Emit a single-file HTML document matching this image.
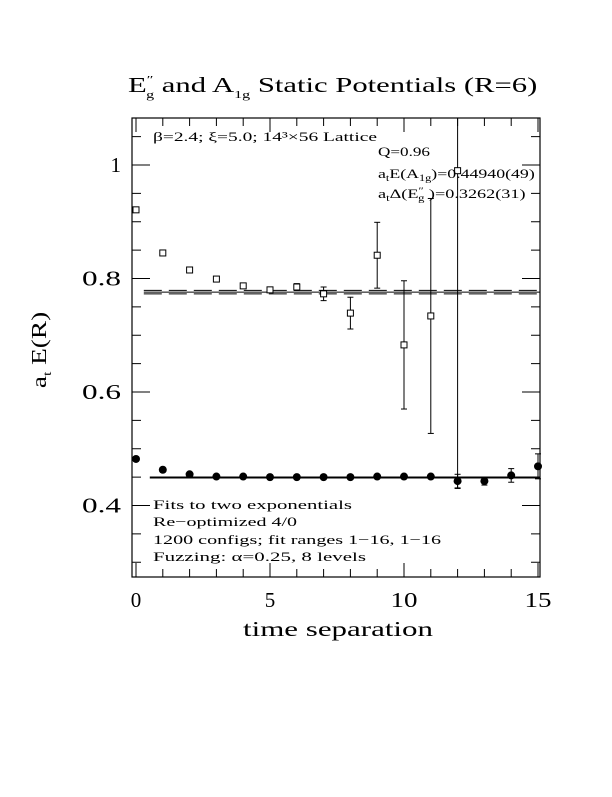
<!DOCTYPE html>
<html><head><meta charset="utf-8"><style>
html,body{margin:0;padding:0;background:#fff}
svg text{font-family:"Liberation Serif",serif;fill:#000}
</style></head><body>
<svg width="612" height="792" viewBox="0 0 612 792" xmlns="http://www.w3.org/2000/svg">
<g transform="translate(128,0) scale(1.46,1)">
<text x="0" y="92" font-size="21">E<tspan font-size="11" dy="-9">″</tspan><tspan font-size="11" dx="-5" dy="15">g</tspan><tspan dy="-6">  and A</tspan><tspan font-size="11" dy="6">1g</tspan><tspan dy="-6"> Static Potentials (R=6)</tspan></text>
</g>
<rect x="132" y="118" width="408" height="459" fill="none" stroke="#000" stroke-width="1.2"/>
<g id="ticks"></g>
<g id="marks"></g>
<text x="153" y="141" font-size="13" textLength="224" lengthAdjust="spacingAndGlyphs">β=2.4; ξ=5.0; 14³×56 Lattice</text>
<text x="378" y="156" font-size="13" textLength="52" lengthAdjust="spacingAndGlyphs">Q=0.96</text>
<g transform="translate(378,0) scale(1.37,1)">
<text x="0" y="178" font-size="13">a<tspan font-size="9" dy="3">t</tspan><tspan dy="-3">E(A</tspan><tspan font-size="9" dy="3">1g</tspan><tspan dy="-3">)=0.44940(49)</tspan></text>
</g>
<g transform="translate(378,0) scale(1.4,1)">
<text x="0" y="198" font-size="13">a<tspan font-size="9" dy="3">t</tspan><tspan dy="-3">Δ(E</tspan><tspan font-size="9" dy="-4">″</tspan><tspan font-size="9" dx="-4" dy="7">g</tspan><tspan dy="-3"> )=0.3262(31)</tspan></text>
</g>
<g font-size="13">
<text x="153" y="509" textLength="199" lengthAdjust="spacingAndGlyphs">Fits to two exponentials</text>
<text x="153" y="526" textLength="144" lengthAdjust="spacingAndGlyphs">Re−optimized 4/0</text>
<text x="153" y="544" textLength="288" lengthAdjust="spacingAndGlyphs">1200 configs; fit ranges 1−16, 1−16</text>
<text x="153" y="561" textLength="213" lengthAdjust="spacingAndGlyphs">Fuzzing: α=0.25, 8 levels</text>
</g>
<g id="xlabels" font-size="21" text-anchor="middle"></g>
<g id="ylabels" font-size="21" text-anchor="end"></g>
<text x="243" y="636" font-size="21" textLength="190" lengthAdjust="spacingAndGlyphs">time separation</text>
<g transform="translate(46,350) rotate(-90) scale(1.3,1)">
<text x="0" y="0" font-size="21" text-anchor="middle">a<tspan font-size="12" dy="5">t</tspan><tspan dy="-5"> E(R)</tspan></text>
</g>
</svg>
<script>
const xTicks=[0,5,10,15];
const yTicks=[0.4,0.6,0.8,1];
const yTickLabels=["0.4","0.6","0.8","1"];
const tVals=[0,1,2,3,4,5,6,7,8,9,10,11,12,13,14,15];
const egVals=[0.921,0.845,0.815,0.799,0.787,0.780,0.785,0.773,0.739,0.841,0.683,0.734,0.99];
const egErr=[0.003,0.003,0.003,0.003,0.003,0.004,0.006,0.012,0.028,0.058,0.113,0.207,0.56];
const a1gVals=[0.482,0.463,0.455,0.451,0.451,0.450,0.450,0.450,0.450,0.451,0.451,0.451,0.443,0.443,0.453,0.469];
const a1gErr=[0.002,0.002,0.002,0.002,0.002,0.002,0.002,0.002,0.002,0.002,0.002,0.002,0.012,0.007,0.012,0.022];
const egFit=0.776, egFitErr=0.003, egFitStart=1;
const a1gFit=0.4494, a1gFitStart=1;
const NS='http://www.w3.org/2000/svg';
const X=t=>136+t*26.8;
const Y=v=>165+(1-v)*567.5;
function mk(tag,attrs,parent){const e=document.createElementNS(NS,tag);for(const k in attrs)e.setAttribute(k,attrs[k]);parent.appendChild(e);return e;}
const tk=document.getElementById('ticks'),mg=document.getElementById('marks');
for(let t=0;t<=15;t++){const big=t%5===0,l=big?14:8;
 let e=mk('line',{x1:X(t),x2:X(t),y1:577,y2:577-l,stroke:'#000'},tk);
 e=mk('line',{x1:X(t),x2:X(t),y1:118,y2:118+l,stroke:'#000'},tk);}
for(let i=6;i<=21;i++){const v=i*0.05,y=Y(v);if(y<118||y>577)continue;const big=i%4===0,l=big?18:9;
 let e=mk('line',{x1:132,x2:132+l,y1:y,y2:y,stroke:'#000'},tk);
 e=mk('line',{x1:540,x2:540-l,y1:y,y2:y,stroke:'#000'},tk);}
const xl=document.getElementById('xlabels');
xTicks.forEach(t=>{const e=mk('text',{x:X(t),y:607},xl);e.textContent=String(t);if(t>=10){e.setAttribute('textLength','27');e.setAttribute('lengthAdjust','spacingAndGlyphs');}
 });
const yl=document.getElementById('ylabels');
yTicks.forEach((v,i)=>{const e=mk('text',{x:121,y:Y(v)+7},yl);e.textContent=yTickLabels[i];if(yTickLabels[i].length>2){e.setAttribute('textLength','39');e.setAttribute('lengthAdjust','spacingAndGlyphs');}
 });
let f=mk('line',{x1:X(egFitStart)-19,x2:540,y1:Y(egFit),y2:Y(egFit),stroke:'#000'},mg);
[egFit+egFitErr,egFit-egFitErr].forEach(v=>{const e=mk('line',{x1:X(egFitStart)-19,x2:540,y1:Y(v),y2:Y(v),stroke:'#000','stroke-dasharray':'18,7'},mg);});
f=mk('line',{x1:X(a1gFitStart)-13,x2:540,y1:Y(a1gFit),y2:Y(a1gFit),stroke:'#000','stroke-width':2},mg);
function clipY(y){return Math.max(118,Math.min(577,y));}
egVals.forEach((v,i)=>{const x=X(tVals[i]),y=Y(v),y1=clipY(Y(v+egErr[i])),y2=clipY(Y(v-egErr[i]));
 let e=mk('line',{x1:x,x2:x,y1:y1,y2:y2,stroke:'#000'},mg);
 [y1,y2].forEach(yy=>{if(yy>118&&yy<577){const c=mk('line',{x1:x-3,x2:x+3,y1:yy,y2:yy,stroke:'#000'},mg);}});
 e=mk('rect',{x:x-3,y:y-3,width:6,height:6,fill:'#fff',stroke:'#000'},mg);});
a1gVals.forEach((v,i)=>{const x=X(tVals[i]),y=Y(v);
 if(a1gErr[i]>0.004){const y1=Y(v+a1gErr[i]),y2=Y(v-a1gErr[i]);
  let e=mk('line',{x1:x,x2:x,y1:y1,y2:y2,stroke:'#000'},mg);
  [y1,y2].forEach(yy=>{const c=mk('line',{x1:x-3,x2:x+3,y1:yy,y2:yy,stroke:'#000'},mg);});}
 const e=mk('circle',{cx:x,cy:y,r:4,fill:'#000'},mg);});
</script>
</body></html>
